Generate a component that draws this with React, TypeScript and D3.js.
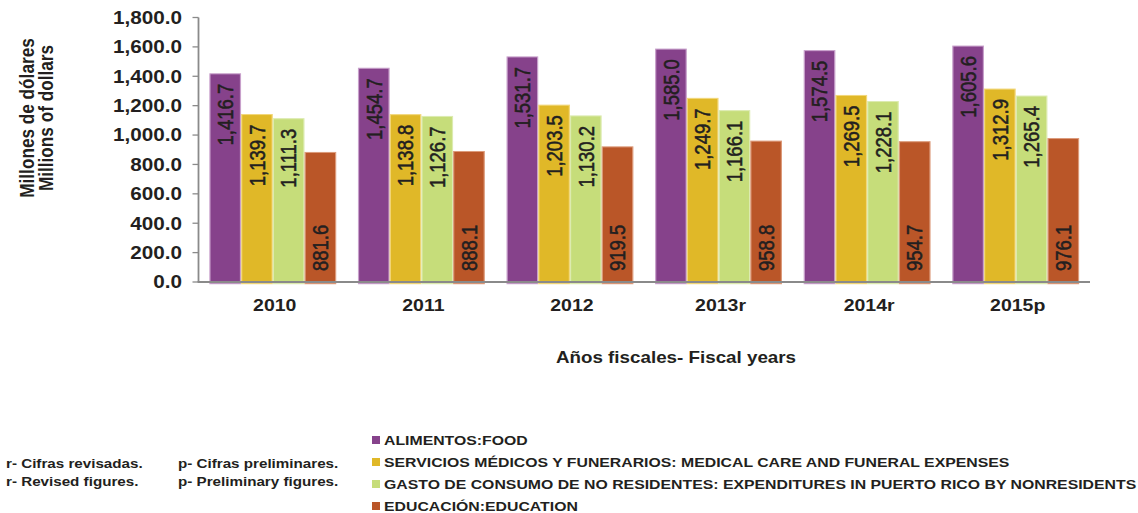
import React from "react";
import * as d3 from "d3";

// fiscal years and series (millones de dólares)
const years = ["2010", "2011", "2012", "2013r", "2014r", "2015p"];
const food = [1416.7, 1454.7, 1531.7, 1585.0, 1574.5, 1605.6];
const medical = [1139.7, 1138.8, 1203.5, 1249.7, 1269.5, 1312.9];
const nonresidents = [1111.3, 1126.7, 1130.2, 1166.1, 1228.1, 1265.4];
const education = [881.6, 888.1, 919.5, 958.8, 954.7, 976.1];
const yTicks = [0, 200, 400, 600, 800, 1000, 1200, 1400, 1600, 1800];

const seriesNames = [
  "ALIMENTOS:FOOD",
  "SERVICIOS MÉDICOS Y FUNERARIOS: MEDICAL CARE AND FUNERAL EXPENSES",
  "GASTO DE CONSUMO DE NO RESIDENTES: EXPENDITURES IN PUERTO RICO BY NONRESIDENTS",
  "EDUCACIÓN:EDUCATION",
];
const seriesValues = [food, medical, nonresidents, education];
const fills = ["#86428b", "#e0b828", "#c6dd7a", "#ba5628"];
const strokes = ["#c8a0cb", "#f2d77a", "#dcebb0", "#dc9a7a"];

// the reference is squashed vertically; draw in a taller box and stretch it
const W = 1138;
const H = 513;
const S = 0.86;
const VH = H / S;
const py = (v: number) => v / S; // screen px -> view units

const FONT = "'Liberation Sans', Arial, Helvetica, sans-serif";
const INK = "#231f20";

export default function App() {
  const x0 = d3
    .scaleBand()
    .domain(years)
    .range([198.5, 1090])
    .paddingInner(0.146)
    .paddingOuter(0.073);
  const x1 = d3
    .scaleBand()
    .domain(seriesNames)
    .range([0, x0.bandwidth()]);
  const y = d3.scaleLinear().domain([0, 1800]).range([py(282), py(17.5)]);
  const fmt = d3.format(",.1f");

  const axisColor = "#8a8a8a";

  return (
    <svg
      width={W}
      height={H}
      viewBox={`0 0 ${W} ${VH}`}
      preserveAspectRatio="none"
      style={{ position: "absolute", left: 0, top: 0, background: "#fff" }}
      fontFamily={FONT}
    >
      {/* bars */}
      {years.map((yr, i) => (
        <g key={yr} transform={`translate(${x0(yr)},0)`}>
          {seriesNames.map((name, j) => {
            const v = seriesValues[j][i];
            const bx = x1(name) as number;
            const bw = x1.bandwidth();
            return (
              <rect
                key={name}
                x={bx + 0.6}
                y={y(v)}
                width={bw - 1.2}
                height={y(0) - y(v) + 2}
                fill={fills[j]}
                stroke={strokes[j]}
                strokeWidth={1.2}
              />
            );
          })}
        </g>
      ))}

      {/* value labels */}
      {years.map((yr, i) =>
        seriesNames.map((name, j) => {
          const v = seriesValues[j][i];
          const cx = (x0(yr) as number) + (x1(name) as number) + x1.bandwidth() / 2;
          const atBase = j === 3;
          const ly = atBase ? y(0) - py(11) : y(v) + py(10);
          return (
            <text
              key={yr + name}
              transform={`translate(${cx},${ly}) rotate(-90)`}
              textAnchor={atBase ? "start" : "end"}
              dy="0.36em"
              fontSize={21.5}
              fill={INK}
              stroke={INK}
              strokeWidth={0.55}
            >
              {fmt(v)}
            </text>
          );
        })
      )}

      {/* y axis */}
      <line x1={198.5} x2={198.5} y1={y(1800)} y2={y(0)} stroke={axisColor} strokeWidth={1.8} />
      {yTicks.map((t) => (
        <g key={t}>
          <line x1={192.5} x2={198.5} y1={y(t)} y2={y(t)} stroke={axisColor} strokeWidth={1.5} />
          <text
            x={182}
            y={y(t)}
            dy="0.36em"
            textAnchor="end"
            fontSize={20.7}
            fontWeight="bold"
            fill={INK}
          >
            {fmt(t)}
          </text>
        </g>
      ))}

      {/* x axis */}
      <line x1={197.6} x2={1090} y1={y(0)} y2={y(0)} stroke={axisColor} strokeWidth={2.2} />
      {years.map((yr) => (
        <text
          key={yr}
          x={(x0(yr) as number) + x0.bandwidth() / 2 + 2}
          y={py(305)}
          dy="0.36em"
          textAnchor="middle"
          fontSize={19.5}
          fontWeight="bold"
          fill={INK}
        >
          {yr}
        </text>
      ))}

      {/* axis titles */}
      <g transform={`translate(27,${py(118)}) rotate(-90)`}>
        <text textAnchor="middle" dy="0.36em" fontSize={20} fontWeight="bold" fill={INK}>
          Millones de dólares
        </text>
      </g>
      <g transform={`translate(46,${py(118)}) rotate(-90)`}>
        <text textAnchor="middle" dy="0.36em" fontSize={20} fontWeight="bold" fill={INK}>
          Millions of dollars
        </text>
      </g>
      <text
        x={676}
        y={py(357)}
        dy="0.36em"
        textAnchor="middle"
        fontSize={18.8}
        fontWeight="bold"
        fill={INK}
      >
        Años fiscales- Fiscal years
      </text>

      {/* notes */}
      {[
        ["r- Cifras revisadas.", 6, 463],
        ["r- Revised figures.", 6, 481],
        ["p- Cifras preliminares.", 178, 463],
        ["p- Preliminary figures.", 178, 481],
      ].map(([t, nx, ny]) => (
        <text
          key={t as string}
          x={nx as number}
          y={py(ny as number)}
          dy="0.36em"
          fontSize={15.2}
          fontWeight="bold"
          fill={INK}
        >
          {t}
        </text>
      ))}

      {/* legend */}
      {seriesNames.map((name, j) => {
        const ly = py(440 + j * 22);
        return (
          <g key={name}>
            <rect x={372} y={ly - py(4)} width={8} height={py(8)} fill={fills[j]} />
            <text
              x={384}
              y={ly}
              dy="0.36em"
              fontSize={15.83}
              fontWeight="bold"
              fill={INK}
            >
              {name}
            </text>
          </g>
        );
      })}
    </svg>
  );
}
